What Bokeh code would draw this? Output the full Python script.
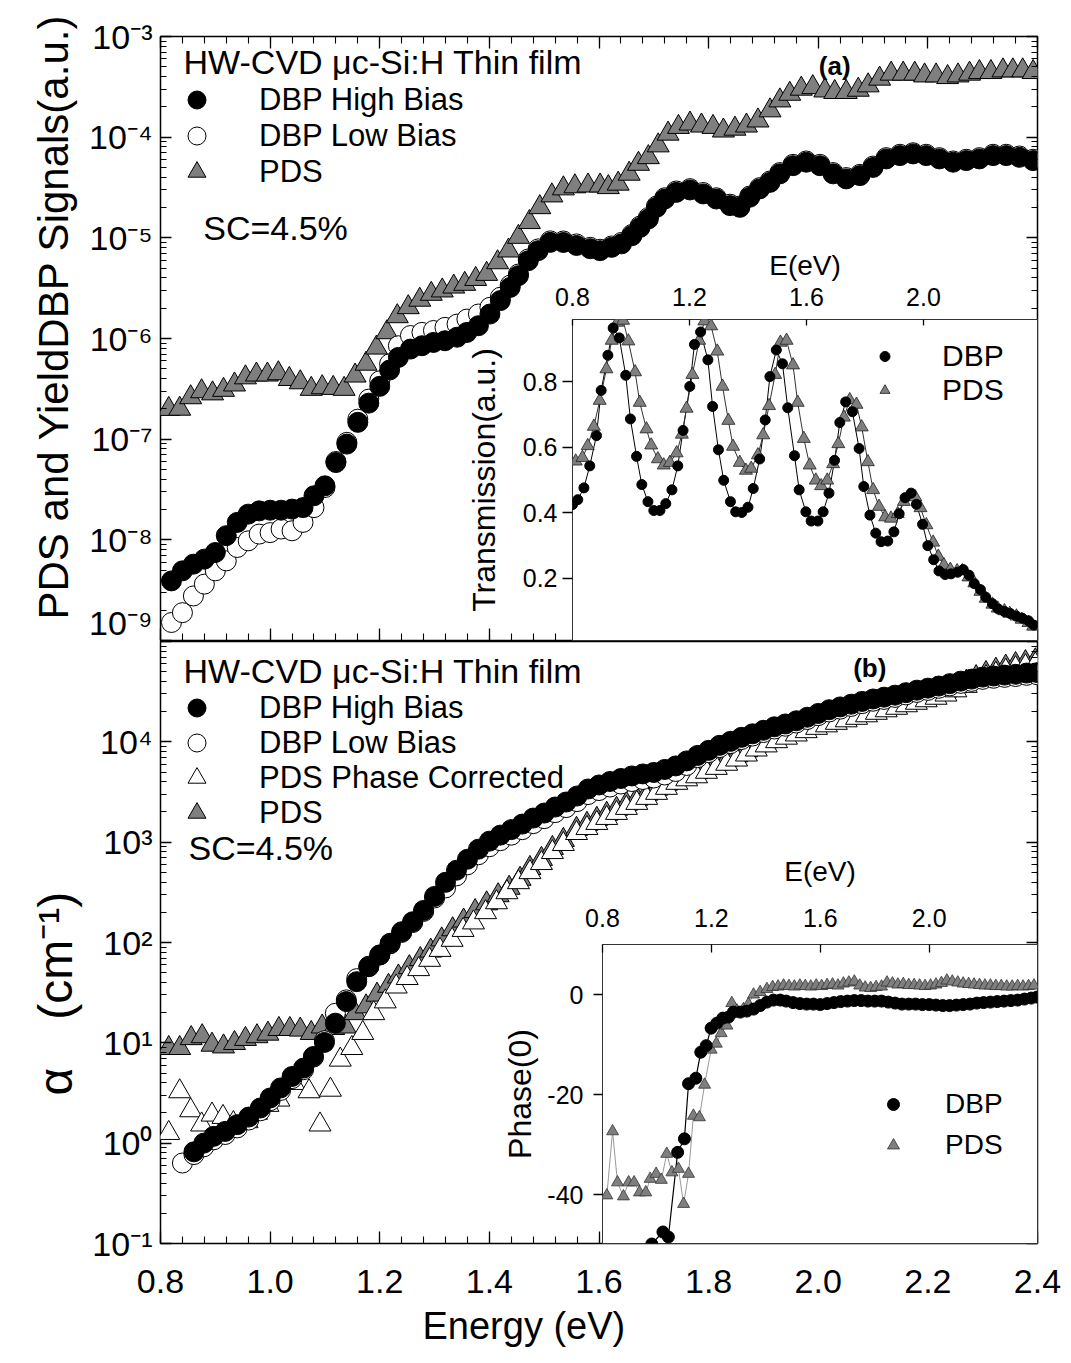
from bokeh.plotting import figure
from bokeh.models import (LinearAxis, LogAxis, FixedTicker, CustomJSTickFormatter, Legend,
                          LegendItem, Label, Range1d, GridBox, Title)
from bokeh.embed import file_html
from bokeh.resources import INLINE

FONT = "Liberation Sans"
GRAY = "#7f7f7f"

# ---------------- Panel (a): PDS and DBP yield signals ----------------
a_pds_E = [0.815, 0.835, 0.855, 0.875, 0.895, 0.915, 0.935, 0.955, 0.975, 0.995,
           1.015, 1.035, 1.055, 1.075, 1.095, 1.115, 1.135, 1.155, 1.175, 1.194,
           1.213, 1.232, 1.252, 1.273, 1.294, 1.314, 1.335, 1.355, 1.375, 1.395,
           1.415, 1.435, 1.453, 1.473, 1.492, 1.514, 1.535, 1.556, 1.580, 1.602,
           1.617, 1.635, 1.655, 1.672, 1.690, 1.708, 1.726, 1.745, 1.766, 1.787,
           1.808, 1.827, 1.848, 1.869, 1.890, 1.912, 1.930, 1.948, 1.969, 1.990,
           2.012, 2.030, 2.051, 2.073, 2.091, 2.112, 2.133, 2.155, 2.176, 2.194,
           2.215, 2.236, 2.255, 2.276, 2.294, 2.315, 2.337, 2.355, 2.373, 2.392]
a_pds_sig = [1.99e-7, 2.0e-7, 2.6e-7, 2.98e-7, 2.84e-7, 3.08e-7, 3.48e-7, 4.1e-7, 4.37e-7, 4.37e-7,
             4.5e-7, 3.95e-7, 3.66e-7, 3.15e-7, 3.27e-7, 3.22e-7, 3.15e-7, 4.27e-7, 5.6e-7, 8.1e-7,
             1.15e-6, 1.66e-6, 2.04e-6, 2.42e-6, 2.77e-6, 2.99e-6, 3.27e-6, 3.48e-6, 3.89e-6, 4.37e-6,
             5.7e-6, 7.46e-6, 1.02e-5, 1.43e-5, 2.01e-5, 2.63e-5, 3.09e-5, 3.24e-5, 3.3e-5, 3.3e-5,
             3.18e-5, 3.44e-5, 4.32e-5, 5.42e-5, 6.31e-5, 8.26e-5, 1.08e-4, 1.26e-4, 1.36e-4, 1.3e-4,
             1.26e-4, 1.16e-4, 1.21e-4, 1.3e-4, 1.46e-4, 1.84e-4, 2.31e-4, 2.69e-4, 3.02e-4, 3.13e-4,
             2.9e-4, 2.8e-4, 2.8e-4, 2.95e-4, 3.26e-4, 3.8e-4, 4.26e-4, 4.26e-4, 4.26e-4, 4.09e-4,
             4.09e-4, 3.94e-4, 4.09e-4, 4.26e-4, 4.42e-4, 4.42e-4, 4.59e-4, 4.59e-4, 4.59e-4, 4.42e-4]

a_dbp_E = [0.82, 0.84, 0.86, 0.88, 0.90, 0.92, 0.94, 0.96, 0.98, 1.00,
           1.02, 1.04, 1.06, 1.08, 1.10, 1.12, 1.14, 1.16, 1.18, 1.20,
           1.218, 1.234, 1.256, 1.277, 1.298, 1.319, 1.341, 1.359, 1.380, 1.401,
           1.420, 1.438, 1.453, 1.471, 1.489, 1.511, 1.535, 1.559, 1.584, 1.602,
           1.623, 1.641, 1.660, 1.675, 1.690, 1.705, 1.720, 1.741, 1.766, 1.790,
           1.814, 1.839, 1.857, 1.875, 1.893, 1.912, 1.930, 1.954, 1.978, 2.003,
           2.027, 2.051, 2.076, 2.100, 2.124, 2.149, 2.173, 2.197, 2.221, 2.246,
           2.270, 2.294, 2.319, 2.343, 2.367, 2.392]
a_dbp_high = [3.91e-9, 4.92e-9, 5.73e-9, 6.43e-9, 7.48e-9, 1.10e-8, 1.49e-8, 1.80e-8, 1.94e-8, 1.97e-8,
              1.97e-8, 2.02e-8, 2.09e-8, 2.74e-8, 3.44e-8, 5.86e-8, 8.93e-8, 1.47e-7, 2.28e-7, 3.35e-7,
              4.86e-7, 6.49e-7, 7.85e-7, 8.47e-7, 9.14e-7, 9.5e-7, 1.03e-6, 1.15e-6, 1.34e-6, 1.75e-6,
              2.38e-6, 3.22e-6, 4.21e-6, 5.93e-6, 7.46e-6, 9.02e-6, 9.0e-6, 8.4e-6, 7.8e-6, 7.46e-6,
              8.05e-6, 8.71e-6, 1.05e-5, 1.27e-5, 1.54e-5, 2.01e-5, 2.43e-5, 2.83e-5, 2.99e-5, 2.73e-5,
              2.43e-5, 2.09e-5, 2.01e-5, 2.53e-5, 3.06e-5, 3.56e-5, 4.32e-5, 5.21e-5, 5.64e-5, 5.21e-5,
              4.32e-5, 3.85e-5, 4.15e-5, 5.01e-5, 6.08e-5, 6.56e-5, 6.82e-5, 6.56e-5, 6.08e-5, 5.64e-5,
              5.85e-5, 6.08e-5, 6.56e-5, 6.56e-5, 6.31e-5, 5.85e-5]
a_dbp_low = [1.51e-9, 1.89e-9, 2.77e-9, 3.63e-9, 4.92e-9, 6.18e-9, 8.39e-9, 9.77e-9, 1.14e-8, 1.18e-8,
             1.28e-8, 1.23e-8, 1.49e-8, 2.09e-8, 3.31e-8, 6.0e-8, 9.3e-8, 1.58e-7, 2.5e-7, 3.8e-7,
             5.6e-7, 8.47e-7, 1.07e-6, 1.15e-6, 1.20e-6, 1.29e-6, 1.39e-6, 1.56e-6, 1.75e-6, 2.04e-6,
             2.57e-6, 3.39e-6, 4.37e-6, 6.17e-6, 7.76e-6, 9.33e-6, 9.3e-6, 8.7e-6, 8.05e-6, 7.7e-6,
             8.3e-6, 9.0e-6, 1.08e-5, 1.31e-5, 1.59e-5, 2.07e-5, 2.5e-5, 2.92e-5, 3.08e-5, 2.82e-5,
             2.5e-5, 2.16e-5, 2.07e-5, 2.6e-5, 3.15e-5, 3.67e-5, 4.45e-5, 5.37e-5, 5.8e-5, 5.37e-5,
             4.45e-5, 3.97e-5, 4.27e-5, 5.16e-5, 6.26e-5, 6.76e-5, 7.0e-5, 6.76e-5, 6.26e-5, 5.8e-5,
             6.03e-5, 6.26e-5, 6.76e-5, 6.76e-5, 6.5e-5, 6.03e-5]

# ---------------- Inset (a): transmission ----------------
ta_dbp_E = [0.800, 0.818, 0.839, 0.859, 0.882, 0.898, 0.921, 0.939, 0.960, 0.982,
            0.998, 1.019, 1.037, 1.058, 1.078, 1.099, 1.119, 1.140, 1.160, 1.178,
            1.201, 1.217, 1.238, 1.263, 1.279, 1.299, 1.317, 1.340, 1.358, 1.379,
            1.400, 1.418, 1.440, 1.459, 1.475, 1.497, 1.518, 1.536, 1.559, 1.575,
            1.598, 1.616, 1.639, 1.657, 1.677, 1.696, 1.714, 1.734, 1.757, 1.780,
            1.796, 1.817, 1.837, 1.855, 1.878, 1.899, 1.917, 1.937, 1.958, 1.976,
            1.997, 2.015, 2.035, 2.053, 2.074, 2.094, 2.117, 2.136, 2.156, 2.174,
            2.195, 2.213, 2.236, 2.256, 2.277, 2.297, 2.318, 2.338, 2.359, 2.377]
ta_dbp_T = [0.425, 0.44, 0.476, 0.543, 0.635, 0.773, 0.88, 0.963, 0.933, 0.819,
            0.686, 0.572, 0.486, 0.434, 0.407, 0.407, 0.428, 0.47, 0.543, 0.651,
            0.785, 0.913, 0.951, 0.866, 0.724, 0.592, 0.499, 0.434, 0.403, 0.401,
            0.417, 0.474, 0.564, 0.683, 0.815, 0.896, 0.854, 0.72, 0.574, 0.47,
            0.403, 0.375, 0.375, 0.403, 0.46, 0.56, 0.675, 0.738, 0.708, 0.596,
            0.48, 0.393, 0.338, 0.312, 0.314, 0.342, 0.397, 0.446, 0.46, 0.426,
            0.365, 0.3, 0.257, 0.223, 0.212, 0.214, 0.219, 0.227, 0.21, 0.184,
            0.166, 0.143, 0.123, 0.107, 0.099, 0.093, 0.085, 0.079, 0.071, 0.058]
ta_pds_E = [0.811, 0.834, 0.852, 0.873, 0.893, 0.916, 0.934, 0.953, 0.973, 0.991,
            1.014, 1.030, 1.053, 1.069, 1.092, 1.112, 1.133, 1.156, 1.174, 1.190,
            1.210, 1.233, 1.251, 1.274, 1.295, 1.313, 1.333, 1.349, 1.372, 1.393,
            1.411, 1.434, 1.452, 1.472, 1.493, 1.511, 1.532, 1.554, 1.570, 1.591,
            1.611, 1.632, 1.650, 1.671, 1.691, 1.709, 1.728, 1.748, 1.771, 1.789,
            1.810, 1.828, 1.848, 1.869, 1.889, 1.912, 1.933, 1.951, 1.972, 1.990,
            2.010, 2.033, 2.051, 2.070, 2.092, 2.115, 2.133, 2.154, 2.174, 2.195,
            2.213, 2.236, 2.254, 2.277, 2.295, 2.318, 2.336, 2.359, 2.375]
ta_pds_T = [0.557, 0.568, 0.604, 0.663, 0.742, 0.838, 0.925, 0.98, 0.986, 0.923,
            0.829, 0.736, 0.655, 0.606, 0.564, 0.545, 0.553, 0.582, 0.639, 0.718,
            0.821, 0.925, 0.984, 0.969, 0.892, 0.785, 0.681, 0.602, 0.553, 0.529,
            0.535, 0.576, 0.637, 0.726, 0.821, 0.919, 0.925, 0.85, 0.736, 0.626,
            0.545, 0.499, 0.482, 0.499, 0.549, 0.61, 0.691, 0.744, 0.73, 0.661,
            0.555, 0.47, 0.419, 0.387, 0.383, 0.397, 0.434, 0.452, 0.448, 0.415,
            0.363, 0.31, 0.267, 0.241, 0.227, 0.223, 0.223, 0.204, 0.186, 0.16,
            0.139, 0.121, 0.109, 0.101, 0.093, 0.085, 0.075, 0.065, 0.054]

# ---------------- Panel (b): absorption coefficient ----------------
b_high_E = [0.861, 0.879, 0.897, 0.918, 0.940, 0.961, 0.982, 1.000, 1.019, 1.040,
            1.061, 1.079, 1.099, 1.119, 1.139, 1.158, 1.180, 1.200, 1.219, 1.240,
            1.260, 1.280, 1.300, 1.32, 1.34, 1.36, 1.38, 1.40, 1.42, 1.44,
            1.46, 1.48, 1.50, 1.52, 1.54, 1.56, 1.58, 1.60, 1.62, 1.64,
            1.66, 1.68, 1.70, 1.72, 1.74, 1.76, 1.78, 1.80, 1.82, 1.84,
            1.86, 1.88, 1.90, 1.92, 1.94, 1.96, 1.98, 2.00, 2.02, 2.04,
            2.06, 2.08, 2.10, 2.12, 2.14, 2.16, 2.18, 2.20, 2.22, 2.24,
            2.26, 2.28, 2.30, 2.32, 2.34, 2.36, 2.38, 2.40]
b_high_alpha = [0.82, 1.0, 1.17, 1.31, 1.53, 1.82, 2.24, 2.82, 3.55, 4.62,
                5.6, 7.31, 10.1, 15.7, 25.8, 40.7, 57.4, 75.2, 98.2, 128,
                161, 209, 288, 398, 525, 676, 851, 1023, 1175, 1334,
                1514, 1738, 1950, 2239, 2512, 2884, 3388, 3715, 4027, 4315,
                4571, 4786, 4955, 5309, 5754, 6457, 7328, 8222, 9226, 10116,
                11092, 12023, 13032, 14125, 15066, 16218, 17579, 19187, 20893, 22284,
                23714, 25293, 26730, 27861, 29174, 30903, 32734, 34277, 35975, 38019,
                40272, 42170, 44157, 45290, 46238, 47098, 48417, 48978]
b_low_E = [0.840, 0.861, 0.879, 0.897, 0.918, 0.940, 0.961, 0.982, 1.000, 1.019,
           1.040, 1.061, 1.079, 1.099, 1.119, 1.139, 1.158, 1.180, 1.200, 1.219,
           1.240, 1.260, 1.280, 1.300, 1.32, 1.34, 1.36, 1.38, 1.40, 1.42,
           1.44, 1.46, 1.48, 1.50, 1.52, 1.54, 1.56, 1.58, 1.60, 1.62,
           1.64, 1.66, 1.68, 1.70, 1.72, 1.74, 1.76, 1.78, 1.80, 1.82,
           1.84, 1.86, 1.88, 1.90, 1.92, 1.94, 1.96, 1.98, 2.00, 2.02,
           2.04, 2.06, 2.08, 2.10, 2.12, 2.14, 2.16, 2.18, 2.20, 2.22,
           2.24, 2.26, 2.28, 2.30, 2.32, 2.34, 2.36, 2.38, 2.40]
b_low_alpha = [0.634, 0.77, 0.92, 1.08, 1.22, 1.42, 1.70, 2.10, 2.65, 3.35,
               4.40, 5.4, 7.2, 10.5, 19.7, 26.8, 43.6, 58, 75, 97,
               126, 158, 204, 278, 350, 462, 595, 749, 900, 1034,
               1174, 1332, 1530, 1716, 1970, 2211, 2538, 2981, 3269, 3544,
               3797, 4022, 4212, 4360, 4672, 5064, 5811, 6960, 7810, 8765,
               9610, 10540, 11420, 12380, 13420, 14310, 15410, 16700, 18230, 19850,
               21170, 22530, 24030, 25390, 26470, 27720, 29360, 31100, 32560, 34180,
               36120, 38260, 40060, 41950, 43030, 43930, 44740, 46000, 46530]
b_pdsc_E = [0.815, 0.835, 0.855, 0.875, 0.894, 0.914, 0.933, 0.958, 0.975, 0.996,
            1.016, 1.043, 1.071, 1.091, 1.110, 1.128, 1.149, 1.169, 1.189, 1.210,
            1.230, 1.250, 1.271, 1.291, 1.310, 1.332, 1.352, 1.371, 1.393, 1.413,
            1.432, 1.453, 1.474, 1.495, 1.515, 1.535, 1.559, 1.578, 1.596, 1.614,
            1.632, 1.650, 1.669, 1.687, 1.705, 1.723, 1.742, 1.760, 1.778, 1.796,
            1.814, 1.833, 1.851, 1.869, 1.887, 1.905, 1.924, 1.942, 1.960, 1.978,
            1.997, 2.015, 2.033, 2.051, 2.070, 2.088, 2.106, 2.124, 2.143, 2.161,
            2.179, 2.197, 2.215, 2.233, 2.251, 2.270, 2.288, 2.306, 2.324, 2.342,
            2.360, 2.378, 2.396]
b_pdsc_alpha = [1.26, 3.28, 2.12, 1.53, 1.92, 1.82, 1.58, 1.65, 2.0, 2.4,
                2.71, 3.97, 3.28, 1.53, 3.40, 6.78, 8.85, 12.5, 19.7, 25.8,
                36.3, 44.1, 54.1, 67.0, 84.1, 106, 133, 158, 200, 251,
                316, 398, 501, 617, 794, 955, 1230, 1380, 1549, 1738,
                1950, 2188, 2455, 2754, 3090, 3467, 3890, 4217, 4519, 5012,
                5483, 6026, 6637, 7447, 8356, 9183, 10116, 10965, 11803, 12735,
                13740, 14555, 15417, 16331, 17298, 18323, 19409, 20559, 21777, 23067,
                24434, 25882, 27416, 29500, 32500, 36000, 40000, 44000, 47500, 51000,
                54000, 56500, 58884]
b_pds_E = [0.815, 0.835, 0.856, 0.876, 0.894, 0.915, 0.935, 0.955, 0.976, 0.996,
           1.016, 1.036, 1.055, 1.075, 1.095, 1.116, 1.137, 1.155, 1.175, 1.195,
           1.216, 1.234, 1.254, 1.274, 1.293, 1.313, 1.333, 1.353, 1.374, 1.395,
           1.416, 1.436, 1.456, 1.474, 1.495, 1.515, 1.535, 1.559, 1.578, 1.596,
           1.614, 1.632, 1.650, 1.669, 1.687, 1.705, 1.723, 1.742, 1.760, 1.778,
           1.796, 1.814, 1.833, 1.851, 1.869, 1.887, 1.905, 1.924, 1.942, 1.960,
           1.978, 1.997, 2.015, 2.033, 2.051, 2.070, 2.088, 2.106, 2.124, 2.143,
           2.161, 2.179, 2.197, 2.215, 2.233, 2.251, 2.270, 2.288, 2.306, 2.324,
           2.342, 2.360, 2.378, 2.396]
b_pds_alpha = [8.85, 8.85, 11.1, 11.6, 9.55, 9.18, 9.93, 10.9, 11.6, 12.3,
               13.7, 13.7, 13.5, 12.5, 14.5, 14.0, 14.5, 19.7, 23.0, 30.1,
               36.9, 45.7, 56.6, 68.1, 82.8, 107, 135, 165, 205, 245,
               295, 350, 430, 551, 679, 873, 1050, 1353, 1518, 1704,
               1912, 2145, 2407, 2700, 3029, 3399, 3814, 4279, 4639, 4971,
               5513, 6031, 6629, 7301, 8192, 9192, 10101, 11128, 12062, 12983,
               14009, 15114, 16011, 16959, 17964, 19028, 20155, 21350, 22615, 23955,
               25374, 26877, 28470, 30158, 32400, 35700, 39600, 44000, 48400, 52200,
               56100, 59400, 62100, 64700]

# ---------------- Inset (b): phase ----------------
ph_dbp_E = [0.981, 1.022, 1.042, 1.076, 1.101, 1.116, 1.143, 1.161, 1.181, 1.199,
            1.220, 1.242, 1.263, 1.281, 1.306, 1.330, 1.355, 1.379, 1.404, 1.428,
            1.453, 1.475, 1.500, 1.525, 1.550, 1.575, 1.600, 1.625, 1.650, 1.675,
            1.700, 1.725, 1.750, 1.775, 1.800, 1.825, 1.850, 1.875, 1.900, 1.925,
            1.950, 1.975, 2.000, 2.025, 2.050, 2.075, 2.100, 2.125, 2.150, 2.175,
            2.200, 2.225, 2.250, 2.275, 2.300, 2.325, 2.350, 2.375, 2.396]
ph_dbp = [-49.8, -47.4, -48.4, -31.5, -28.8, -17.8, -16.7, -11.5, -10.2, -6.7,
          -5.7, -4.7, -4.5, -3.5, -3.5, -3.3, -2.9, -2.2, -1.5, -1.1,
          -1.1, -1.3, -1.6, -1.8, -1.9, -1.9, -2.0, -1.8, -1.6, -1.4,
          -1.3, -1.2, -1.2, -1.3, -1.3, -1.3, -1.5, -1.7, -1.9, -1.9,
          -1.9, -2.0, -2.0, -2.1, -2.2, -2.2, -2.1, -2.0, -1.9, -1.7,
          -1.6, -1.5, -1.4, -1.3, -1.2, -1.1, -0.9, -0.7, -0.5]
ph_pds_E = [0.816, 0.837, 0.855, 0.877, 0.896, 0.916, 0.936, 0.959, 0.975, 0.997,
            1.016, 1.036, 1.055, 1.079, 1.098, 1.116, 1.134, 1.156, 1.175, 1.199,
            1.218, 1.236, 1.257, 1.275, 1.294, 1.318, 1.336, 1.355, 1.379, 1.404,
            1.425, 1.445, 1.465, 1.485, 1.505, 1.525, 1.545, 1.565, 1.585, 1.605,
            1.625, 1.645, 1.665, 1.685, 1.705, 1.725, 1.745, 1.765, 1.785, 1.805,
            1.825, 1.845, 1.865, 1.885, 1.905, 1.925, 1.945, 1.965, 1.985, 2.005,
            2.025, 2.045, 2.065, 2.085, 2.105, 2.125, 2.145, 2.165, 2.185, 2.205,
            2.225, 2.245, 2.265, 2.285, 2.305, 2.325, 2.345, 2.365, 2.385]
ph_pds = [-40.1, -27.3, -37.5, -40.3, -37.5, -37.5, -39.5, -39.5, -36.8, -35.8,
          -37.0, -31.8, -35.5, -34.8, -41.8, -35.8, -24.2, -24.5, -18.0, -11.0,
          -9.8, -7.7, -6.2, -1.7, -3.2, -2.9, -1.9, 0.0, 0.5, 1.1,
          1.5, 1.6, 1.8, 1.7, 1.6, 1.8, 1.7, 1.6, 1.8, 1.7,
          1.9, 2.0, 1.8, 2.2, 2.4, 2.6, 1.8, 1.4, 1.3, 1.5,
          1.6, 2.4, 2.2, 2.0, 2.1, 1.9, 1.9, 1.8, 1.7, 1.8,
          2.0, 2.3, 2.8, 2.6, 2.4, 2.2, 2.1, 2.0, 1.9, 1.8,
          1.8, 1.7, 1.7, 1.6, 1.6, 1.7, 1.6, 1.7, 1.8]

# ---------------- tick values ----------------
x_major = [0.8, 1.0, 1.2, 1.4, 1.6, 1.8, 2.0, 2.2, 2.4]
x_minor = [round(0.8 + 0.04 * k, 3) for k in range(41)]
inset_x_major = [0.8, 1.2, 1.6, 2.0]


def log_ticks(lo, hi):
    major = [10.0 ** e for e in range(lo, hi + 1)]
    minor = [m * 10.0 ** e for e in range(lo, hi) for m in range(2, 10)]
    return major, minor


def blank_fmt():
    return CustomJSTickFormatter(code="return '';")


def fixed_fmt(digits):
    return CustomJSTickFormatter(args=dict(d=digits), code="return tick.toFixed(d);")


def sup_fmt(skip):
    return CustomJSTickFormatter(args=dict(skip=skip), code="""
const e = Math.round(Math.log10(tick));
if (e == skip) { return ""; }
const s = {"-": "\u207b", "0": "\u2070", "1": "\u00b9", "2": "\u00b2", "3": "\u00b3",
           "4": "\u2074", "5": "\u2075", "6": "\u2076", "7": "\u2077", "8": "\u2078", "9": "\u2079"};
return "10" + String(e).split("").map(c => s[c]).join("");
""")


def tick_style(ax, maj_in, min_in, maj_out=0, min_out=0):
    ax.axis_line_color = None
    ax.major_tick_in = maj_in
    ax.major_tick_out = maj_out
    ax.minor_tick_in = min_in
    ax.minor_tick_out = min_out
    ax.major_tick_line_color = "black"
    ax.minor_tick_line_color = "black"
    ax.major_tick_line_width = 1.3
    ax.minor_tick_line_width = 1.1
    ax.major_label_text_color = "black"
    ax.axis_label_text_color = "black"


def hide_labels(ax):
    ax.formatter = blank_fmt()
    ax.major_label_text_font_size = "0px"
    ax.major_label_standoff = 0
    ax.axis_label = None


def main_panel(height, ylo_exp, yhi_exp, border_top, border_bottom, skip):
    p = figure(width=1071, height=height, title=None, x_range=Range1d(0.8, 2.4),
               y_range=Range1d(10.0 ** ylo_exp, 10.0 ** yhi_exp), y_axis_type="log",
               output_backend="svg", toolbar_location=None,
               min_border_left=160, min_border_right=33,
               min_border_top=border_top, min_border_bottom=border_bottom)
    p.grid.visible = False
    p.outline_line_color = "black"
    p.outline_line_width = 1.5
    p.background_fill_color = "white"
    p.border_fill_color = "white"
    ymaj, ymin = log_ticks(ylo_exp, yhi_exp)
    xt = FixedTicker(ticks=x_major, minor_ticks=x_minor)
    yt = FixedTicker(ticks=ymaj, minor_ticks=ymin)
    xa = p.xaxis[0]
    xa.ticker = xt
    tick_style(xa, 12, 7)
    ya = p.yaxis[0]
    ya.ticker = yt
    ya.formatter = sup_fmt(skip)
    tick_style(ya, 11, 6)
    ya.major_label_text_font = FONT
    ya.major_label_text_font_size = "34px"
    ya.major_label_standoff = 8
    ra = LogAxis(ticker=yt)
    tick_style(ra, 11, 6)
    hide_labels(ra)
    p.add_layout(ra, "right")
    return p, xt


def one_item_legend(p, renderer, label, vx, vy, gw, gh, standoff, fs):
    p.add_layout(Legend(items=[LegendItem(label=label, renderers=[renderer])],
                        location=(vx, vy), glyph_width=gw, glyph_height=gh, spacing=0,
                        label_standoff=standoff, padding=0, margin=0, border_line_color=None,
                        background_fill_alpha=0, label_text_font=FONT,
                        label_text_font_size=fs, label_text_color="black"))


def text_label(p, x, y, text, size="34px", align="left", style="normal"):
    p.add_layout(Label(x=x, y=y, text=text, text_font=FONT, text_font_size=size,
                       text_font_style=style, text_baseline="middle", text_align=align,
                       text_color="black"))


LEG_FS = "31px"

# ---------------- top main panel (a) ----------------
pa, xt_a = main_panel(641, -9, -3, 36, 0, 99)
hide_labels(pa.xaxis[0])
ta = LinearAxis(ticker=xt_a)
tick_style(ta, 12, 7)
hide_labels(ta)
pa.add_layout(ta, "above")
pa.add_layout(Title(text="PDS and YieldDBP Signals(a.u.)", align="left", offset=21,
                    text_font=FONT, text_font_size="42px", text_font_style="normal",
                    text_color="black", standoff=20), "left")

r_a_pds = pa.scatter(a_pds_E, a_pds_sig, marker="triangle", size=22, fill_color=GRAY,
                     line_color="black", line_width=1)
r_a_low = pa.scatter(a_dbp_E, a_dbp_low, marker="circle", size=20, fill_color="white",
                     line_color="black", line_width=1)
r_a_high = pa.scatter(a_dbp_E, a_dbp_high, marker="circle", size=20, fill_color="black",
                      line_color="black", line_width=1)

# legend rows centred at y = 100, 136, 172 px (frame bottom at 641)
one_item_legend(pa, r_a_high, "DBP High Bias", 14, 518, 45, 45, 40, LEG_FS)
one_item_legend(pa, r_a_low, "DBP Low Bias", 14, 482, 45, 45, 40, LEG_FS)
one_item_legend(pa, r_a_pds, "PDS", 14, 446, 45, 45, 40, LEG_FS)
text_label(pa, 0.842, 5.55e-4, "HW-CVD \u03bcc-Si:H Thin film")
text_label(pa, 0.878, 1.25e-5, "SC=4.5%")
text_label(pa, 2.03, 5.15e-4, "(a)", size="26px", align="center", style="bold")

# ---------------- bottom main panel (b) ----------------
pb, xt_b = main_panel(722, -1, 5, 0, 120, 5)
xb = pb.xaxis[0]
xb.formatter = fixed_fmt(1)
xb.major_label_text_font = FONT
xb.major_label_text_font_size = "34px"
xb.major_label_standoff = 26
pb.add_layout(Title(text="Energy (eV)", align="left", offset=262, text_font=FONT,
                    text_font_size="38px", text_font_style="normal", text_color="black",
                    standoff=14), "below")
pb.add_layout(Title(text="\u03b1\u2003(cm\u207b\u00b9)", align="left", offset=148,
                    text_font=FONT, text_font_size="48px", text_font_style="normal",
                    text_color="black", standoff=16), "left")

r_b_pds = pb.scatter(b_pds_E, b_pds_alpha, marker="triangle", size=22, fill_color=GRAY,
                     line_color="black", line_width=1)
r_b_pdsc = pb.scatter(b_pdsc_E, b_pdsc_alpha, marker="triangle", size=22, fill_color="white",
                      line_color="black", line_width=1)
r_b_low = pb.scatter(b_low_E, b_low_alpha, marker="circle", size=20, fill_color="white",
                     line_color="black", line_width=1)
r_b_high = pb.scatter(b_high_E, b_high_alpha, marker="circle", size=20, fill_color="black",
                      line_color="black", line_width=1)

# legend rows centred at y = 707, 742, 777, 812 px (frame bottom at 1243)
one_item_legend(pb, r_b_high, "DBP High Bias", 14, 513, 45, 45, 40, LEG_FS)
one_item_legend(pb, r_b_low, "DBP Low Bias", 14, 478, 45, 45, 40, LEG_FS)
one_item_legend(pb, r_b_pdsc, "PDS Phase Corrected", 14, 443, 45, 45, 40, LEG_FS)
one_item_legend(pb, r_b_pds, "PDS", 14, 408, 45, 45, 40, LEG_FS)
text_label(pb, 0.842, 5.05e4, "HW-CVD \u03bcc-Si:H Thin film")
text_label(pb, 0.851, 880, "SC=4.5%")
text_label(pb, 2.094, 5.5e4, "(b)", size="26px", align="center", style="bold")


# ---------------- insets ----------------
def inset(width, height, xr, yr, bl, bt, bb, xlabel, ylabel, yticks, ydigits, xin, yout,
          xstd, xlabstd, ystd, ylabstd, ylab_fs):
    p = figure(width=width, height=height, title=None, x_range=Range1d(*xr), y_range=Range1d(*yr),
               x_axis_location="above", y_axis_location="left", output_backend="svg",
               toolbar_location=None, min_border_left=bl, min_border_right=34,
               min_border_top=bt, min_border_bottom=bb)
    p.grid.visible = False
    p.border_fill_color = None
    p.background_fill_color = "white"
    p.outline_line_color = "#333333"
    p.outline_line_width = 1
    xa = p.xaxis[0]
    xa.ticker = FixedTicker(ticks=inset_x_major, minor_ticks=[])
    xa.formatter = fixed_fmt(1)
    tick_style(xa, xin, 0)
    xa.major_label_text_font = FONT
    xa.major_label_text_font_size = "25px"
    xa.major_label_standoff = xstd
    xa.axis_label = xlabel
    xa.axis_label_text_font = FONT
    xa.axis_label_text_font_size = "28px"
    xa.axis_label_text_font_style = "normal"
    xa.axis_label_standoff = xlabstd
    ya = p.yaxis[0]
    ya.ticker = FixedTicker(ticks=yticks, minor_ticks=[])
    ya.formatter = fixed_fmt(ydigits)
    tick_style(ya, 0, 0, yout, 0)
    ya.major_label_text_font = FONT
    ya.major_label_text_font_size = "25px"
    ya.major_label_standoff = ystd
    ya.axis_label = ylabel
    ya.axis_label_text_font = FONT
    ya.axis_label_text_font_size = ylab_fs
    ya.axis_label_text_font_style = "normal"
    ya.axis_label_standoff = ylabstd
    return p


ia = inset(631, 411, (0.8, 2.39), (0.011, 0.989), 132, 89, 1, "E(eV)", "Transmission(a.u.)",
           [0.2, 0.4, 0.6, 0.8], 1, 6, 10, 14, 4, 5, 18, "32px")
ia.line(ta_dbp_E, ta_dbp_T, line_color="black", line_width=1)
ia.line(ta_pds_E, ta_pds_T, line_color="#333333", line_width=1)
r_ia_pds = ia.scatter(ta_pds_E, ta_pds_T, marker="triangle", size=13, fill_color=GRAY,
                      line_color="#222222", line_width=0.8)
r_ia_dbp = ia.scatter(ta_dbp_E, ta_dbp_T, marker="circle", size=10, fill_color="black",
                      line_color="black")
one_item_legend(ia, r_ia_dbp, "DBP", 300, 267, 25, 34, 45, "30px")
one_item_legend(ia, r_ia_pds, "PDS", 300, 233, 25, 34, 45, "30px")

ib = inset(671, 430, (0.8, 2.398), (-49.7, 10.0), 202, 124, 7, "E(eV)", "Phase(0)",
           [-40, -20, 0], 0, 8, 9, 18, 19, 10, 6, "32px")
ib.line(ph_pds_E, ph_pds, line_color="#999999", line_width=1)
ib.line(ph_dbp_E, ph_dbp, line_color="black", line_width=1.2)
r_ib_pds = ib.scatter(ph_pds_E, ph_pds, marker="triangle", size=12, fill_color=GRAY,
                      line_color="#333333", line_width=0.8)
r_ib_dbp = ib.scatter(ph_dbp_E, ph_dbp, marker="circle", size=12, fill_color="black",
                      line_color="black")
one_item_legend(ib, r_ib_dbp, "DBP", 276, 122, 30, 34, 37, "28px")
one_item_legend(ib, r_ib_pds, "PDS", 276, 81, 30, 34, 37, "28px")

grid = GridBox(children=[(pa, 0, 0, 2, 3), (pb, 2, 0, 3, 3), (ia, 1, 2, 1, 1), (ib, 3, 1, 1, 2)],
               rows=["230px", "411px", "179px", "430px", "113px"],
               cols=["400px", "40px", "631px"], spacing=0)

open("out.html", "w").write(file_html(grid, INLINE, title="DBP and PDS spectra"))
